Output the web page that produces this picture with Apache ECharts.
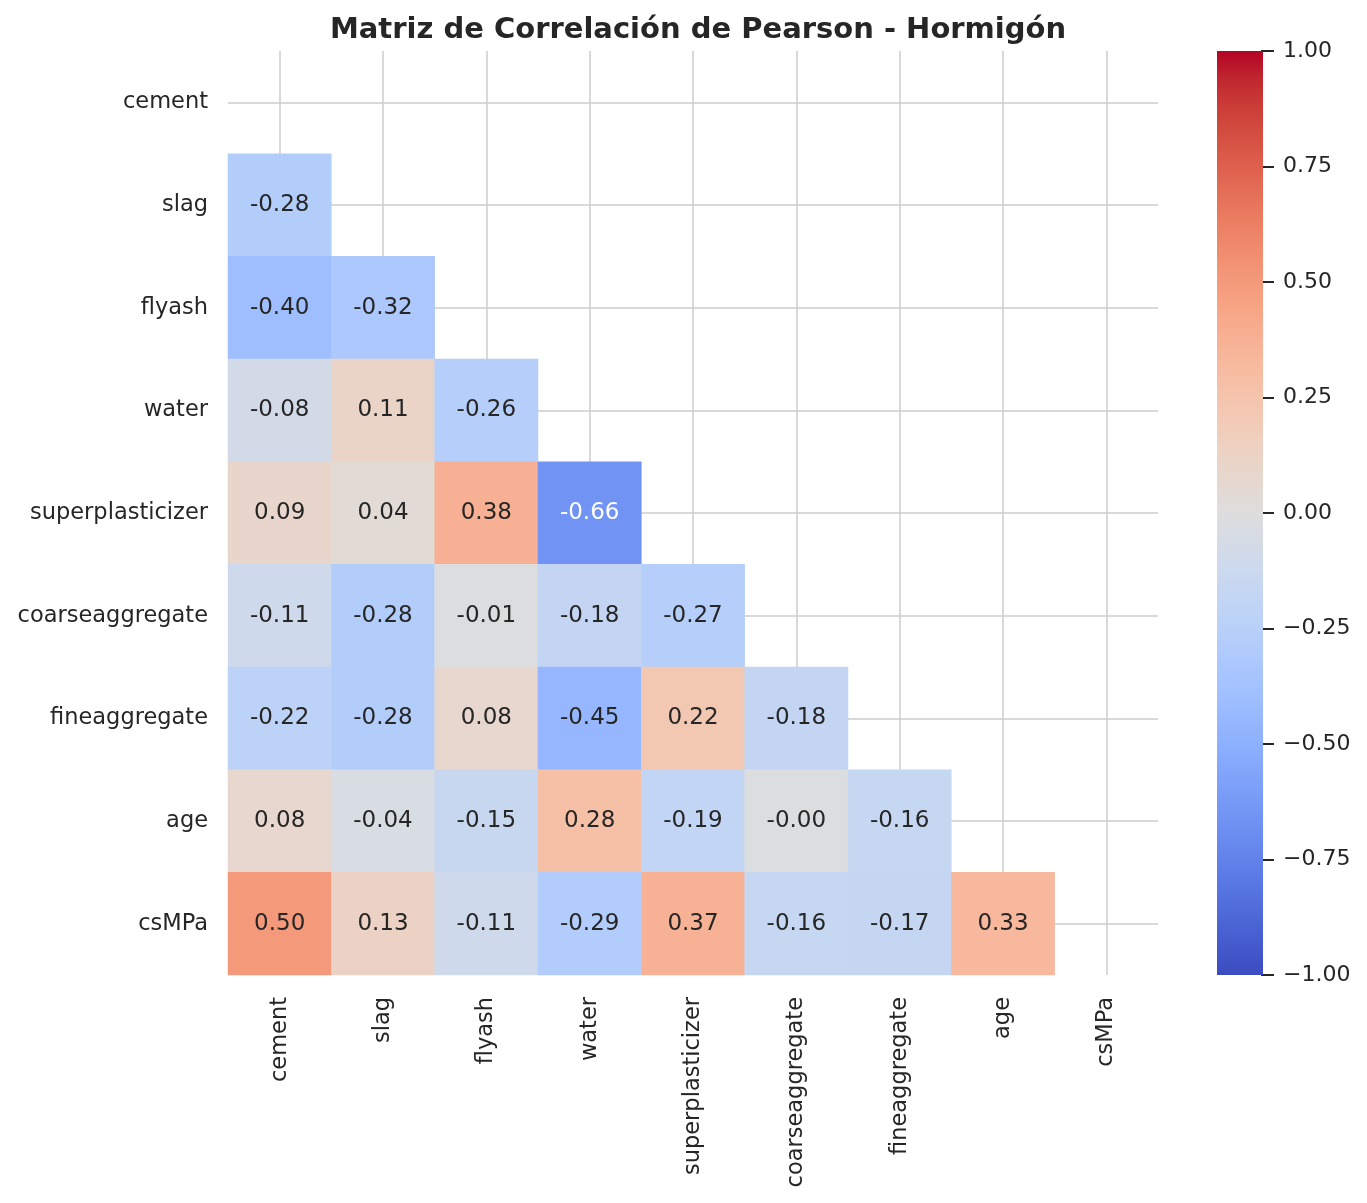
<!DOCTYPE html>
<html>
<head>
<meta charset="utf-8">
<script src="https://cdn.jsdelivr.net/npm/echarts@6/dist/echarts.min.js"></script>
</head>
<body style="margin:0;background:#fff;">
<div id="main" style="width:1367px;height:1203px;"></div>
<script>
// variables del dataset de hormigón
var variables = ['cement', 'slag', 'flyash', 'water', 'superplasticizer',
    'coarseaggregate', 'fineaggregate', 'age', 'csMPa'];

// triángulo inferior de la matriz, fila por fila
var rowCement = [];
var rowSlag = [-0.28];
var rowFlyash = [-0.40, -0.32];
var rowWater = [-0.08, 0.11, -0.26];
var rowSuperplasticizer = [0.09, 0.04, 0.38, -0.66];
var rowCoarse = [-0.11, -0.28, -0.01, -0.18, -0.27];
var rowFine = [-0.22, -0.28, 0.08, -0.45, 0.22, -0.18];
var rowAge = [0.08, -0.04, -0.15, 0.28, -0.19, -0.004, -0.16];
var rowCsMPa = [0.50, 0.13, -0.11, -0.29, 0.37, -0.16, -0.17, 0.33];

var colorbarTicks = [-1, -0.75, -0.5, -0.25, 0, 0.25, 0.5, 0.75, 1];

// mapa de colores coolwarm
var coolwarm = ['#3b4cc0', '#445acc', '#4d68d7', '#5775e1', '#6282ea', '#6c8ef1', '#779af7',
    '#82a5fb', '#8db0fe', '#98b9ff', '#a3c2ff', '#aec9fd', '#b8d0f9', '#c2d5f4', '#ccd9ee',
    '#d5dbe6', '#dddddd', '#e5d8d1', '#ecd3c5', '#f1ccb8', '#f5c4ad', '#f7bba0', '#f7b194',
    '#f7a687', '#f49a7b', '#f18d6f', '#ec7f63', '#e57058', '#de604d', '#d55042', '#cb3e38',
    '#c0282f', '#b40426'];

var rows = [rowCement, rowSlag, rowFlyash, rowWater, rowSuperplasticizer,
    rowCoarse, rowFine, rowAge, rowCsMPa];

var data = [];
rows.forEach(function (row, i) {
    row.forEach(function (v, j) {
        data.push({
            value: [j, i, v],
            label: {color: Math.abs(v) > 0.6 ? '#ffffff' : '#262626'}
        });
    });
});

var font = 'DejaVu Sans';
var gridColor = '#cccccc';
var half = 930 / 9 / 2;
var halfY = 924 / 9 / 2;

var stops = coolwarm.map(function (c, i) {
    return {offset: i / (coolwarm.length - 1), color: c};
});

var myChart = echarts.init(document.getElementById('main'));

var option = {
    backgroundColor: '#ffffff',
    animation: false,
    title: {
        text: 'Matriz de Correlación de Pearson - Hormigón',
        left: 693,
        textAlign: 'center',
        top: 11,
        textStyle: {fontFamily: font, fontSize: 29, fontWeight: 'bold', color: '#262626'}
    },
    grid: [
        {left: 228, right: 209, top: 51, bottom: 228},
        // líneas verticales en los centros de columna
        {left: 228 + half, right: 209 + half, top: 51, bottom: 228},
        // líneas horizontales en los centros de fila
        {left: 228, right: 209, top: 51 + halfY, bottom: 228 + halfY},
        // eje de la barra de color (rejilla estrecha en el borde derecho)
        {left: 1261, right: 104, top: 51, bottom: 228}
    ],
    xAxis: [
        {
            type: 'category', gridIndex: 0, data: variables,
            axisLine: {show: false}, axisTick: {show: false}, splitLine: {show: false},
            axisLabel: {rotate: 90, margin: 22, fontSize: 22.5, fontFamily: font, color: '#262626'}
        },
        {
            type: 'value', gridIndex: 1, min: 0, max: 8, interval: 1,
            axisLine: {show: false}, axisTick: {show: false}, axisLabel: {show: false},
            splitLine: {show: true, lineStyle: {color: gridColor, width: 1.5}}
        },
        {type: 'value', gridIndex: 2, show: false},
        {type: 'value', gridIndex: 3, show: false}
    ],
    yAxis: [
        {
            type: 'category', gridIndex: 0, data: variables, inverse: true,
            axisLine: {show: false}, axisTick: {show: false}, splitLine: {show: false},
            axisLabel: {margin: 20, fontSize: 22.5, fontFamily: font, color: '#262626'}
        },
        {type: 'value', gridIndex: 1, show: false},
        {
            type: 'value', gridIndex: 2, min: 0, max: 8, interval: 1,
            axisLine: {show: false}, axisTick: {show: false}, axisLabel: {show: false},
            splitLine: {show: true, lineStyle: {color: gridColor, width: 1.5}}
        },
        {
            type: 'value', gridIndex: 3, position: 'right',
            min: colorbarTicks[0], max: colorbarTicks[colorbarTicks.length - 1], interval: 0.25,
            axisLine: {show: false},
            axisTick: {show: true, length: 13, lineStyle: {color: '#262626', width: 2}},
            splitLine: {show: false},
            axisLabel: {
                margin: 20, fontSize: 22, fontFamily: font, color: '#262626',
                formatter: function (v) { return v.toFixed(2).replace('-', '\u2212'); }
            }
        }
    ],
    visualMap: {
        type: 'continuous',
        show: false,
        min: -1,
        max: 1,
        seriesIndex: 0,
        inRange: {color: coolwarm}
    },
    graphic: [{
        // barra de color
        type: 'rect',
        shape: {x: 1217, y: 51, width: 46, height: 924},
        style: {fill: new echarts.graphic.LinearGradient(0, 1, 0, 0, stops)},
        z: 1
    }],
    series: [{
        type: 'heatmap',
        xAxisIndex: 0,
        yAxisIndex: 0,
        data: data,
        itemStyle: {borderWidth: 0},
        label: {
            show: true,
            fontSize: 23,
            fontFamily: font,
            formatter: function (p) { return p.value[2].toFixed(2); }
        },
        z: 5
    }]
};
myChart.setOption(option);
</script>
</body>
</html>
